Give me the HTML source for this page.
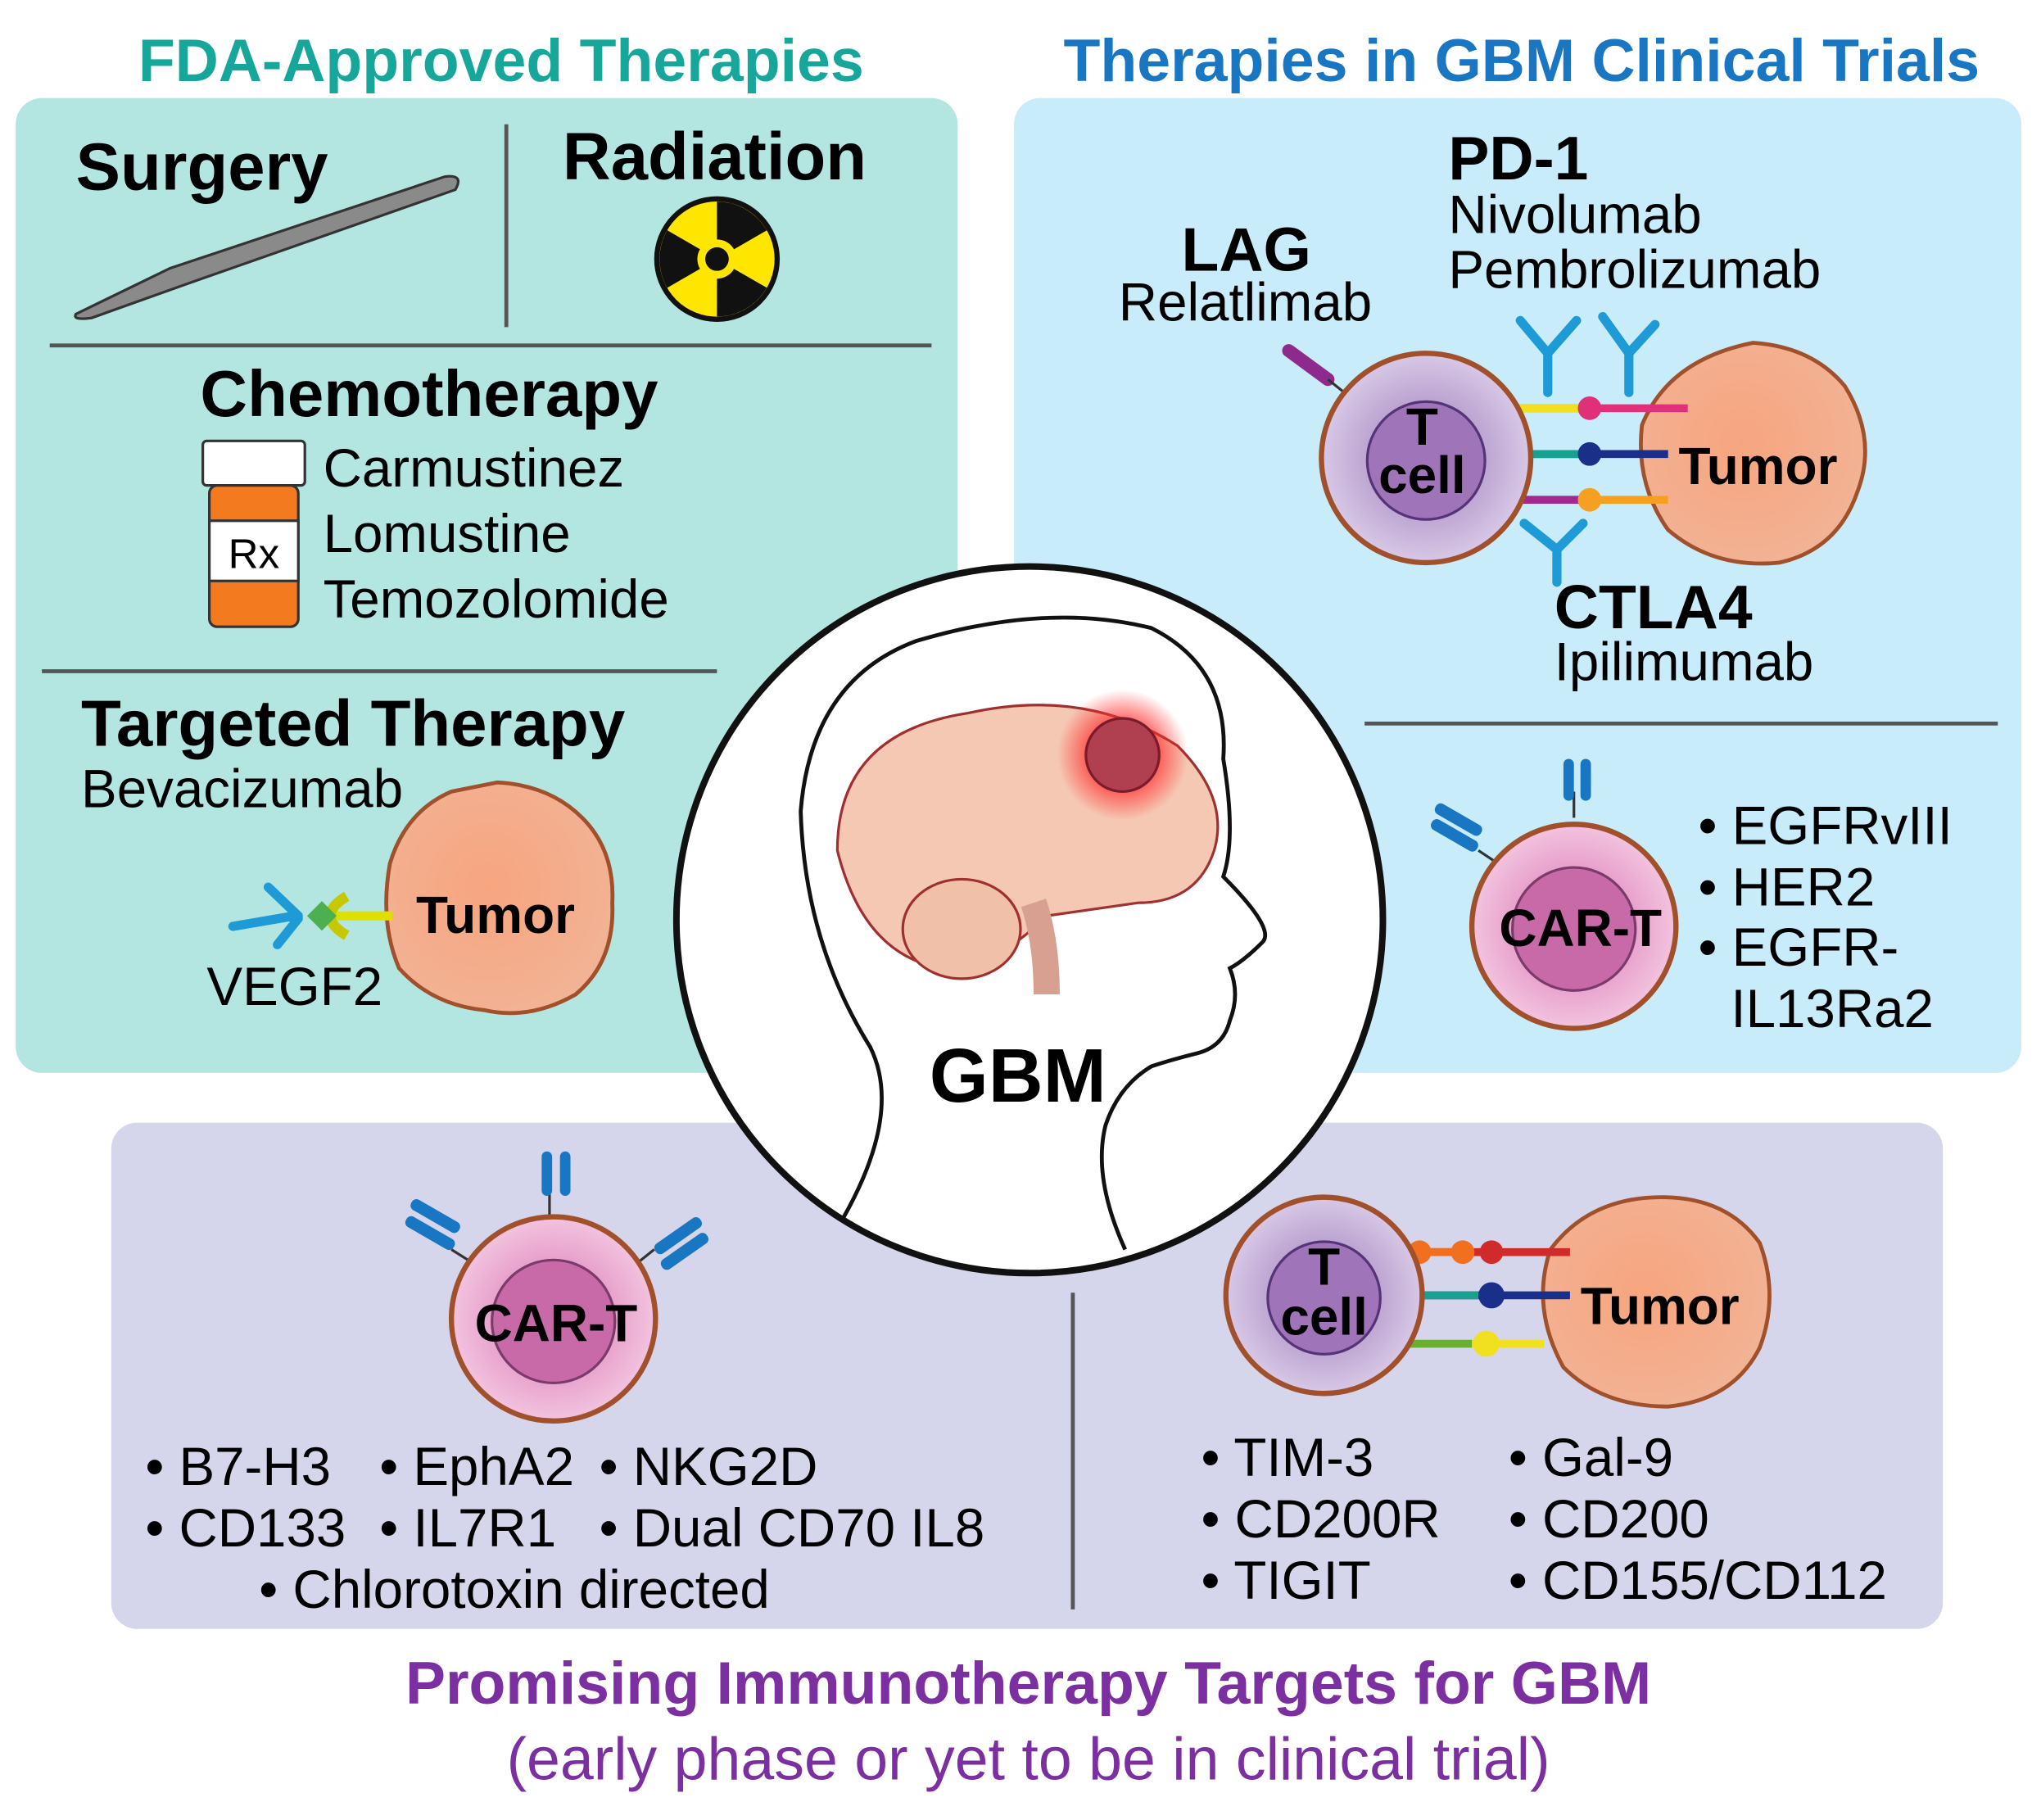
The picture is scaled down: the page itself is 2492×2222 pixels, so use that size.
<!DOCTYPE html>
<html><head><meta charset="utf-8"><style>
html,body{margin:0;padding:0;background:#fff;}
svg{display:block;}
text{font-family:"Liberation Sans",sans-serif;}
</style></head><body>
<svg width="2492" height="2222" viewBox="0 0 1560 1391" xmlns="http://www.w3.org/2000/svg">
<defs>
<radialGradient id="tum" cx="0.45" cy="0.45" r="0.6"><stop offset="0" stop-color="#f7a57e"/><stop offset="1" stop-color="#f2b396"/></radialGradient>
<radialGradient id="tc" cx="0.5" cy="0.5" r="0.5"><stop offset="0.5" stop-color="#b9a0cf"/><stop offset="1" stop-color="#d8c8e6"/></radialGradient>
<radialGradient id="car" cx="0.5" cy="0.5" r="0.5"><stop offset="0.5" stop-color="#e59ac8"/><stop offset="1" stop-color="#f3c3df"/></radialGradient>
<radialGradient id="glow" cx="0.5" cy="0.5" r="0.5"><stop offset="0.4" stop-color="#ff2a2a" stop-opacity="0.9"/><stop offset="1" stop-color="#ff2a2a" stop-opacity="0"/></radialGradient>
</defs>

<text x="383" y="62" font-size="46" font-weight="bold" fill="#17a79a" text-anchor="middle">FDA-Approved Therapies</text>
<text x="1163" y="62" font-size="46" font-weight="bold" fill="#1976c2" text-anchor="middle">Therapies in GBM Clinical Trials</text>

<rect x="12" y="75" width="720" height="745" rx="20" fill="#b4e6e1"/>
<rect x="775" y="75" width="770" height="745" rx="20" fill="#c8ecf9"/>
<rect x="85" y="858" width="1400" height="387" rx="20" fill="#d5d5eb"/>

<text x="58" y="145" font-size="51" font-weight="bold">Surgery</text>
<line x1="387" y1="95" x2="387" y2="250" stroke="#555" stroke-width="3"/>
<text x="430" y="137" font-size="51" font-weight="bold">Radiation</text>
<path d="M58 240 L130 205 L340 135 Q355 133 348 145 L140 218 L70 243 Q55 245 58 240Z" fill="#8a8a8a" stroke="#333" stroke-width="2"/>
<circle cx="548" cy="198" r="46" fill="#ffe600" stroke="#111" stroke-width="4"/>
<path d="M548 198 L570 160 A44 44 0 0 0 526 160Z" fill="#111" transform="rotate(30 548 198)"/>
<path d="M548 198 L570 160 A44 44 0 0 0 526 160Z" fill="#111" transform="rotate(150 548 198)"/>
<path d="M548 198 L570 160 A44 44 0 0 0 526 160Z" fill="#111" transform="rotate(270 548 198)"/>
<circle cx="548" cy="198" r="15" fill="#ffe600"/>
<circle cx="548" cy="198" r="9" fill="#111"/>
<line x1="38" y1="264" x2="712" y2="264" stroke="#555" stroke-width="3"/>
<text x="328" y="318" font-size="50" font-weight="bold" text-anchor="middle">Chemotherapy</text>
<rect x="155" y="337" width="78" height="34" rx="3" fill="#fff" stroke="#333" stroke-width="2"/>
<rect x="160" y="371" width="68" height="108" rx="6" fill="#f47a20" stroke="#333" stroke-width="2"/>
<rect x="160" y="398" width="68" height="46" fill="#fff" stroke="#333" stroke-width="2"/>
<text x="194" y="434" font-size="32" text-anchor="middle">Rx</text>
<text x="247" y="372" font-size="41">Carmustinez</text>
<text x="247" y="422" font-size="41">Lomustine</text>
<text x="247" y="472" font-size="41">Temozolomide</text>
<line x1="32" y1="513" x2="548" y2="513" stroke="#555" stroke-width="3"/>
<text x="62" y="570" font-size="50" font-weight="bold">Targeted Therapy</text>
<text x="62" y="617" font-size="41">Bevacizumab</text>
<path d="M380 598 Q420 600 445 625 Q470 650 468 690 Q470 735 440 760 Q405 780 370 772 Q330 768 305 740 Q290 705 298 660 Q310 620 345 605Z" fill="url(#tum)" stroke="#a0502a" stroke-width="3"/>
<line x1="240" y1="700" x2="300" y2="700" stroke="#e0e000" stroke-width="7"/>
<path d="M265 685 Q240 700 265 715" fill="none" stroke="#c8c800" stroke-width="8"/>
<rect x="238" y="692" width="16" height="16" fill="#4caf50" transform="rotate(45 246 700)"/>
<path d="M178 708 L225 700 M205 678 L228 700 M212 722 L228 702" stroke="#1e9ad6" stroke-width="7" fill="none" stroke-linecap="round"/>
<text x="318" y="713" font-size="40" font-weight="bold">Tumor</text>
<text x="158" y="768" font-size="41">VEGF2</text>

<text x="1107" y="137" font-size="47" font-weight="bold">PD-1</text>
<text x="1107" y="178" font-size="41">Nivolumab</text>
<text x="1107" y="220" font-size="41">Pembrolizumab</text>
<text x="903" y="207" font-size="47" font-weight="bold">LAG</text>
<text x="855" y="245" font-size="41">Relatlimab</text>
<line x1="985" y1="268" x2="1015" y2="290" stroke="#8e2a8e" stroke-width="10" stroke-linecap="round"/>
<line x1="1015" y1="290" x2="1040" y2="310" stroke="#333" stroke-width="2"/>
<path d="M1340 262 Q1385 265 1410 295 Q1435 335 1420 375 Q1405 420 1360 430 Q1310 435 1275 405 Q1250 370 1255 325 Q1275 275 1340 262Z" fill="url(#tum)" stroke="#a0502a" stroke-width="3"/>
<line x1="1150" y1="312" x2="1290" y2="312" stroke="#e0307a" stroke-width="6"/>
<line x1="1150" y1="312" x2="1210" y2="312" stroke="#f0e020" stroke-width="6"/>
<line x1="1150" y1="347" x2="1275" y2="347" stroke="#1a2f8a" stroke-width="6"/>
<line x1="1150" y1="347" x2="1210" y2="347" stroke="#18a090" stroke-width="6"/>
<line x1="1150" y1="382" x2="1275" y2="382" stroke="#f5a020" stroke-width="6"/>
<line x1="1150" y1="382" x2="1210" y2="382" stroke="#a02a90" stroke-width="6"/>
<circle cx="1215" cy="312" r="9" fill="#e0307a"/><circle cx="1215" cy="347" r="9" fill="#1a2f8a"/><circle cx="1215" cy="382" r="9" fill="#f5a020"/>
<circle cx="1090" cy="350" r="80" fill="url(#tc)" stroke="#a0502a" stroke-width="4"/>
<circle cx="1090" cy="352" r="45" fill="#9f74b8" stroke="#553377" stroke-width="2"/>
<text x="1087" y="340" font-size="40" font-weight="bold" text-anchor="middle">T</text>
<text x="1087" y="377" font-size="40" font-weight="bold" text-anchor="middle">cell</text>
<text x="1283" y="370" font-size="40" font-weight="bold">Tumor</text>
<path d="M1183 300 L1183 270 L1162 245 M1183 270 L1205 245 M1245 300 L1245 270 L1225 242 M1245 270 L1265 248 M1190 445 L1190 420 L1165 400 M1190 420 L1210 400" stroke="#1e9ad6" stroke-width="7" fill="none" stroke-linecap="round"/>
<text x="1188" y="480" font-size="47" font-weight="bold">CTLA4</text>
<text x="1188" y="520" font-size="41">Ipilimumab</text>
<line x1="1043" y1="553" x2="1527" y2="553" stroke="#555" stroke-width="3"/>
<line x1="1203" y1="625" x2="1203" y2="605" stroke="#333" stroke-width="2"/>
<rect x="1195" y="580" width="8" height="32" rx="4" fill="#1976c2"/><rect x="1208" y="580" width="8" height="32" rx="4" fill="#1976c2"/>
<line x1="1130" y1="650" x2="1148" y2="662" stroke="#333" stroke-width="2"/>
<rect x="1095" y="622" width="40" height="9" rx="4" fill="#1976c2" transform="rotate(30 1115 626)"/>
<rect x="1092" y="634" width="40" height="9" rx="4" fill="#1976c2" transform="rotate(30 1112 638)"/>
<circle cx="1203" cy="708" r="78" fill="url(#car)" stroke="#a0502a" stroke-width="4"/>
<circle cx="1203" cy="710" r="47" fill="#c86aa8" stroke="#7a3a6a" stroke-width="2"/>
<text x="1208" y="723" font-size="40" font-weight="bold" text-anchor="middle">CAR-T</text>
<text x="1298" y="645" font-size="41">• EGFRvIII</text>
<text x="1298" y="692" font-size="41">• HER2</text>
<text x="1298" y="738" font-size="41">• EGFR-</text>
<text x="1323" y="785" font-size="41">IL13Ra2</text>

<line x1="420" y1="930" x2="420" y2="905" stroke="#333" stroke-width="2"/>
<rect x="414" y="880" width="8" height="34" rx="4" fill="#1976c2"/><rect x="428" y="880" width="8" height="34" rx="4" fill="#1976c2"/>
<line x1="345" y1="955" x2="372" y2="972" stroke="#333" stroke-width="2"/>
<rect x="312" y="925" width="42" height="9" rx="4" fill="#1976c2" transform="rotate(30 333 929)"/>
<rect x="308" y="938" width="42" height="9" rx="4" fill="#1976c2" transform="rotate(30 329 942)"/>
<line x1="500" y1="955" x2="475" y2="975" stroke="#333" stroke-width="2"/>
<rect x="497" y="940" width="42" height="9" rx="4" fill="#1976c2" transform="rotate(-35 518 944)"/>
<rect x="502" y="952" width="42" height="9" rx="4" fill="#1976c2" transform="rotate(-35 523 956)"/>
<circle cx="423" cy="1008" r="78" fill="url(#car)" stroke="#a0502a" stroke-width="4"/>
<circle cx="423" cy="1010" r="47" fill="#c86aa8" stroke="#7a3a6a" stroke-width="2"/>
<text x="425" y="1025" font-size="40" font-weight="bold" text-anchor="middle">CAR-T</text>
<text x="111" y="1135" font-size="41">• B7-H3</text>
<text x="290" y="1135" font-size="41">• EphA2</text>
<text x="458" y="1135" font-size="41">• NKG2D</text>
<text x="111" y="1182" font-size="41">• CD133</text>
<text x="290" y="1182" font-size="41">• IL7R1</text>
<text x="458" y="1182" font-size="41">• Dual CD70 IL8</text>
<text x="198" y="1229" font-size="41">• Chlorotoxin directed</text>
<line x1="820" y1="988" x2="820" y2="1230" stroke="#555" stroke-width="3"/>
<path d="M1270 915 Q1320 915 1345 950 Q1360 990 1345 1030 Q1325 1070 1275 1075 Q1225 1075 1195 1045 Q1170 1000 1185 955 Q1215 915 1270 915Z" fill="url(#tum)" stroke="#a0502a" stroke-width="3"/>
<line x1="1070" y1="957" x2="1200" y2="957" stroke="#d02a2a" stroke-width="6"/>
<line x1="1070" y1="957" x2="1120" y2="957" stroke="#f07020" stroke-width="6"/>
<circle cx="1085" cy="957" r="9" fill="#f07020"/><circle cx="1118" cy="957" r="9" fill="#f07020"/><circle cx="1140" cy="957" r="9" fill="#d02a2a"/>
<line x1="1070" y1="990" x2="1200" y2="990" stroke="#1a2f8a" stroke-width="6"/>
<line x1="1070" y1="990" x2="1130" y2="990" stroke="#18a090" stroke-width="6"/>
<circle cx="1140" cy="990" r="10" fill="#1a2f8a"/>
<line x1="1070" y1="1027" x2="1180" y2="1027" stroke="#f0e020" stroke-width="6"/>
<line x1="1070" y1="1027" x2="1125" y2="1027" stroke="#6ab030" stroke-width="6"/>
<circle cx="1136" cy="1027" r="10" fill="#f0e020"/>
<circle cx="1012" cy="990" r="75" fill="url(#tc)" stroke="#a0502a" stroke-width="4"/>
<circle cx="1012" cy="992" r="43" fill="#9f74b8" stroke="#553377" stroke-width="2"/>
<text x="1012" y="982" font-size="40" font-weight="bold" text-anchor="middle">T</text>
<text x="1012" y="1020" font-size="40" font-weight="bold" text-anchor="middle">cell</text>
<text x="1208" y="1012" font-size="40" font-weight="bold">Tumor</text>
<text x="918" y="1128" font-size="41">• TIM-3</text>
<text x="918" y="1175" font-size="41">• CD200R</text>
<text x="918" y="1222" font-size="41">• TIGIT</text>
<text x="1153" y="1128" font-size="41">• Gal-9</text>
<text x="1153" y="1175" font-size="41">• CD200</text>
<text x="1153" y="1222" font-size="41">• CD155/CD112</text>

<circle cx="787" cy="703" r="270" fill="#fff" stroke="#111" stroke-width="5"/>
<path d="M645 930 Q690 850 665 800 Q615 720 612 620 Q620 520 700 490 Q800 460 880 480 Q940 510 935 580 Q945 640 935 670 Q975 710 965 720 Q950 735 940 740 Q948 760 940 780 Q935 800 915 805 Q895 810 880 815 Q855 830 845 860 Q835 900 860 955" fill="none" stroke="#111" stroke-width="3"/>
<path d="M640 650 Q640 560 740 545 Q830 525 900 570 Q940 610 928 650 Q915 690 870 690 L800 700 Q760 740 720 740 Q660 730 640 650Z" fill="#f5c8b4" stroke="#a03030" stroke-width="2"/>
<ellipse cx="735" cy="710" rx="45" ry="38" fill="#f0c0a8" stroke="#a03030" stroke-width="2"/>
<path d="M790 690 Q800 720 800 760" stroke="#d8a090" stroke-width="20" fill="none"/>
<circle cx="858" cy="577" r="50" fill="url(#glow)"/>
<circle cx="858" cy="577" r="28" fill="#b04050" stroke="#7a1a2a" stroke-width="2"/>
<text x="778" y="842" font-size="58" font-weight="bold" text-anchor="middle">GBM</text>

<text x="786" y="1302" font-size="46" font-weight="bold" fill="#7b2fa0" text-anchor="middle">Promising Immunotherapy Targets for GBM</text>
<text x="786" y="1360" font-size="46" fill="#7b2fa0" text-anchor="middle">(early phase or yet to be in clinical trial)</text>
</svg>
</body></html>
